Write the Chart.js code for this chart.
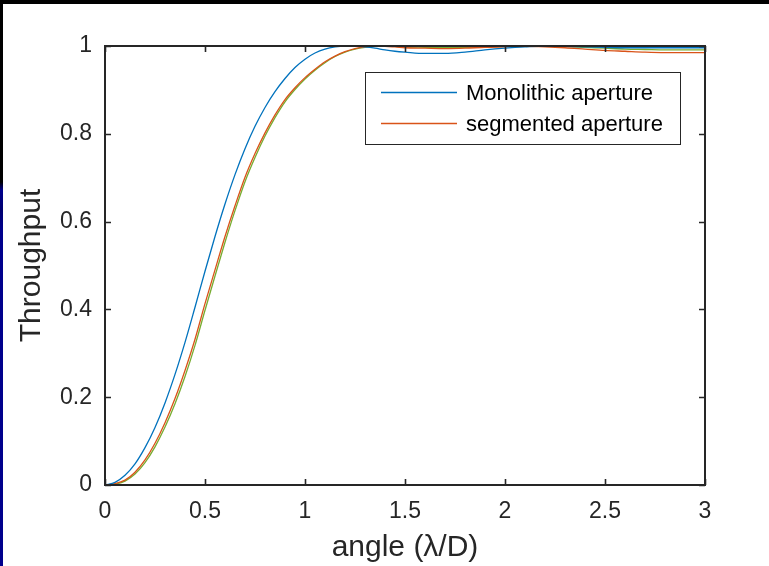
<!DOCTYPE html>
<html>
<head>
<meta charset="utf-8">
<script src="https://cdn.jsdelivr.net/npm/chart.js@4.4.0/dist/chart.umd.min.js"></script>
<style>
  html, body { margin: 0; padding: 0; background: #fff; }
  #wrap { position: relative; width: 769px; height: 566px; }
  #topbar { position: absolute; left: 0; top: 0; width: 769px; height: 4px; background: #000; }
  #sidebar { position: absolute; left: 0; top: 0; width: 3px; height: 566px;
    background: linear-gradient(to bottom, #000 0px, #000 182px, #00008c 190px, #000070 210px, #00008c 230px, #00008c 566px); }
</style>
</head>
<body>
<div id="wrap">
  <canvas id="chart" width="769" height="566"></canvas>
  <div id="topbar"></div>
  <div id="sidebar"></div>
</div>
<script>
// angle in lambda/D
const angle = [0, 0.05, 0.1, 0.15, 0.2, 0.25, 0.3, 0.35, 0.4, 0.45, 0.5, 0.55, 0.6, 0.65, 0.7, 0.75,
  0.8, 0.85, 0.9, 0.95, 1.0, 1.05, 1.1, 1.15, 1.2, 1.25, 1.3, 1.35, 1.4, 1.45, 1.5,
  1.6, 1.7, 1.8, 1.9, 2.0, 2.1, 2.2, 2.3, 2.4, 2.5, 2.6, 2.7, 2.8, 2.9, 3.0];

const monolithic = [0, 0.006, 0.022, 0.048, 0.085, 0.131, 0.187, 0.252, 0.325, 0.405, 0.487, 0.566, 0.64, 0.707, 0.766, 0.817,
  0.86, 0.896, 0.926, 0.951, 0.97, 0.984, 0.993, 0.998, 1.0, 1.0, 0.998, 0.995, 0.991, 0.988, 0.986,
  0.983, 0.983, 0.986, 0.991, 0.995, 0.998, 1.0, 0.999, 0.998, 0.997, 0.996, 0.996, 0.996, 0.996, 0.996];

const segmented = [0, 0.003, 0.011, 0.029, 0.057, 0.095, 0.142, 0.197, 0.261, 0.332, 0.413, 0.49, 0.566, 0.636, 0.701, 0.755,
  0.802, 0.843, 0.878, 0.905, 0.928, 0.947, 0.964, 0.977, 0.987, 0.994, 0.998, 1.0, 0.999, 0.998, 0.996,
  0.995, 0.994, 0.995, 0.997, 0.998, 0.999, 0.998, 0.996, 0.993, 0.99, 0.988, 0.986, 0.985, 0.985, 0.985];

const third = [0, 0.002, 0.009, 0.025, 0.051, 0.087, 0.132, 0.185, 0.247, 0.318, 0.398, 0.476, 0.553, 0.625, 0.691, 0.746,
  0.795, 0.837, 0.873, 0.901, 0.925, 0.945, 0.962, 0.976, 0.986, 0.993, 0.997, 0.999, 1.0, 0.999, 0.998,
  0.997, 0.996, 0.997, 0.998, 0.999, 1.0, 1.0, 0.999, 0.997, 0.995, 0.993, 0.992, 0.991, 0.991, 0.991];

const seriesNames = ["Monolithic aperture", "segmented aperture", ""];
const seriesColors = ["#0072BD", "#D95319", "#77AC30"];
const xTicks = [0, 0.5, 1, 1.5, 2, 2.5, 3];
const yTicks = [0, 0.2, 0.4, 0.6, 0.8, 1];

const FONT = "'Liberation Sans', Arial, sans-serif";
const AXIS = "#262626";

function pts(arr) {
  return angle.map((a, i) => ({ x: a, y: arr[i] }));
}

// box, inward ticks, legend (matlab style)
const matlabAxes = {
  id: "matlabAxes",
  afterDatasetsDraw(chart) {
    const { ctx, chartArea: a, scales } = chart;
    ctx.save();
    ctx.strokeStyle = AXIS;
    ctx.lineWidth = 1.6;
    const tl = 6;
    ctx.beginPath();
    scales.x.ticks.forEach(t => {
      const px = Math.round(scales.x.getPixelForValue(t.value)) + 0.5;
      ctx.moveTo(px, a.bottom); ctx.lineTo(px, a.bottom - tl);
      ctx.moveTo(px, a.top); ctx.lineTo(px, a.top + tl);
    });
    scales.y.ticks.forEach(t => {
      const py = Math.round(scales.y.getPixelForValue(t.value)) + 0.5;
      ctx.moveTo(a.left, py); ctx.lineTo(a.left + tl, py);
      ctx.moveTo(a.right, py); ctx.lineTo(a.right - tl, py);
    });
    ctx.stroke();
    ctx.lineWidth = 2;
    ctx.strokeRect(a.left, a.top, a.right - a.left, a.bottom - a.top);

    // legend
    const lx = a.right - 340, ly = a.top + 26, lw = 315, lh = 72;
    ctx.fillStyle = "#fff";
    ctx.fillRect(lx, ly, lw, lh);
    ctx.strokeStyle = AXIS;
    ctx.lineWidth = 1;
    ctx.strokeRect(lx + 0.5, ly + 0.5, lw, lh);
    ctx.font = "22px " + FONT;
    ctx.textBaseline = "middle";
    ctx.fillStyle = "#000";
    chart.data.datasets.forEach((ds, i) => {
      if (!ds.label) return;
      const ry = Math.round(ly + 20 + i * 31) + 0.5;
      ctx.strokeStyle = ds.borderColor;
      ctx.lineWidth = 1.3;
      ctx.beginPath();
      ctx.moveTo(lx + 16, ry); ctx.lineTo(lx + 92, ry);
      ctx.stroke();
      ctx.fillText(ds.label, lx + 101, ry + 1);
    });
    ctx.restore();
  }
};

new Chart(document.getElementById("chart"), {
  type: "line",
  data: {
    datasets: [monolithic, segmented, third].map((arr, i) => ({
      label: seriesNames[i],
      data: pts(arr),
      borderColor: seriesColors[i],
      borderWidth: 1.3,
      pointRadius: 0,
      fill: false,
      cubicInterpolationMode: "monotone"
    }))
  },
  options: {
    responsive: false,
    animation: false,
    layout: { padding: { left: 0, top: 46, right: 64, bottom: 0 } },
    plugins: { legend: { display: false }, tooltip: { enabled: false } },
    scales: {
      x: {
        type: "linear",
        min: 0, max: 3,
        afterBuildTicks: s => { s.ticks = xTicks.map(v => ({ value: v })); },
        afterFit: s => { s.height = 81; },
        grid: { display: false, drawTicks: false },
        border: { display: false },
        ticks: { color: AXIS, font: { family: FONT, size: 23 }, padding: 13, maxRotation: 0, callback: v => String(v) },
        title: { display: true, text: "angle (\u03BB/D)", color: AXIS, font: { family: FONT, size: 30 }, padding: { top: 0, bottom: 0 } }
      },
      y: {
        min: 0, max: 1,
        afterBuildTicks: s => { s.ticks = yTicks.map(v => ({ value: v })); },
        afterFit: s => { s.width = 105; },
        grid: { display: false, drawTicks: false },
        border: { display: false },
        ticks: { color: AXIS, font: { family: FONT, size: 23 }, padding: 13, callback: v => String(v) },
        title: { display: true, text: "Throughput", color: AXIS, font: { family: FONT, size: 30 }, padding: { top: 14, bottom: 0 } }
      }
    }
  },
  plugins: [matlabAxes]
});
</script>
</body>
</html>
